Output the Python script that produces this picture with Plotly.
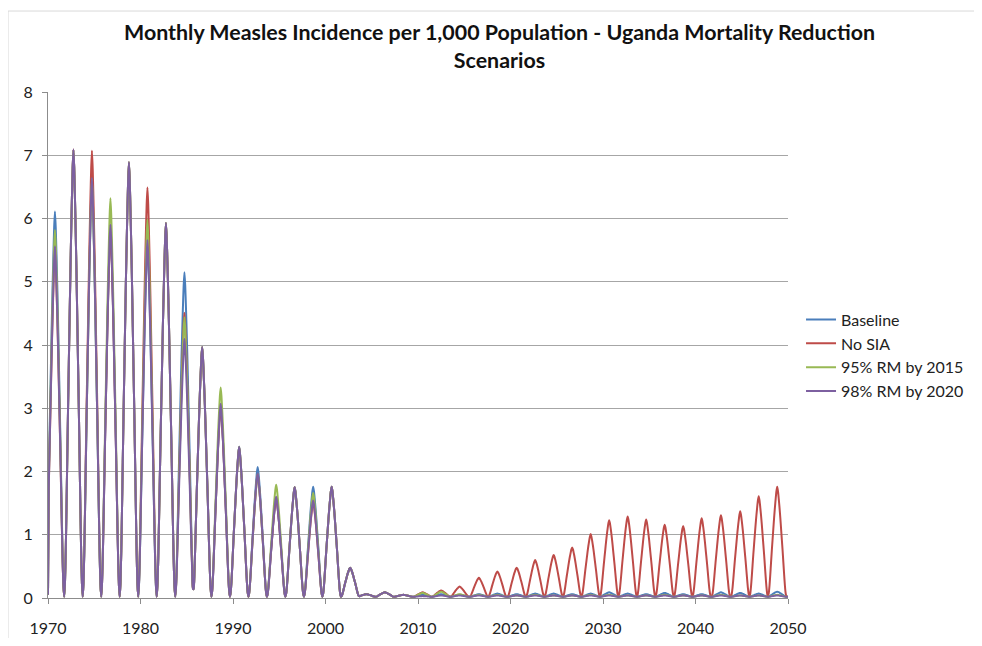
import numpy as np
import plotly.graph_objects as go

# ---- data ----
series_names = ["Baseline", "No SIA", "95% RM by 2015", "98% RM by 2020"]
series_colors = ["#4A7EBB", "#BE4B48", "#98B954", "#7D60A0"]

# epidemic peak times (decimal year) of the biennial measles cycles
peak_years = [1970.75, 1972.75, 1974.75, 1976.75, 1978.75, 1980.75, 1982.75, 1984.75,
              1986.70, 1988.70, 1990.70, 1992.70, 1994.65, 1996.70, 1998.70, 2000.70,
              2002.65, 2004.45, 2006.40, 2008.40, 2010.50, 2012.50, 2014.50, 2016.55,
              2018.60, 2020.70, 2022.65, 2024.70, 2026.70, 2028.70, 2030.70, 2032.70,
              2034.70, 2036.70, 2038.70, 2040.70, 2042.75, 2044.80, 2046.80, 2048.80]

# peak monthly incidence per 1,000 for each cycle
baseline_peaks = [6.11, 7.08, 6.60, 5.88, 6.89, 5.62, 5.93, 5.15, 3.97, 3.05, 2.39, 2.07,
                  1.58, 1.75, 1.76, 1.76, 0.48, 0.06, 0.09, 0.05, 0.05, 0.06, 0.05, 0.06,
                  0.07, 0.06, 0.07, 0.07, 0.06, 0.07, 0.09, 0.07, 0.06, 0.08, 0.06, 0.06,
                  0.09, 0.08, 0.07, 0.10]
no_sia_peaks = [5.50, 7.09, 7.07, 5.85, 6.89, 6.49, 5.93, 4.51, 3.97, 3.04, 2.38, 1.95,
                1.58, 1.75, 1.52, 1.76, 0.48, 0.06, 0.09, 0.05, 0.09, 0.12, 0.18, 0.32,
                0.42, 0.48, 0.60, 0.68, 0.80, 1.01, 1.23, 1.29, 1.24, 1.16, 1.14, 1.26,
                1.31, 1.37, 1.61, 1.76]
rm95_peaks = [5.82, 7.08, 6.62, 6.32, 6.89, 5.98, 5.93, 4.44, 3.97, 3.33, 2.39, 1.96,
              1.79, 1.75, 1.66, 1.76, 0.48, 0.06, 0.09, 0.05, 0.08, 0.10, 0.06, 0.05,
              0.05, 0.04, 0.05, 0.04, 0.04, 0.05, 0.05, 0.04, 0.04, 0.05, 0.04, 0.04,
              0.05, 0.04, 0.04, 0.05]
rm98_peaks = [5.56, 7.09, 6.64, 5.90, 6.89, 5.66, 5.93, 4.10, 3.97, 3.07, 2.39, 1.97,
              1.60, 1.75, 1.54, 1.76, 0.48, 0.06, 0.09, 0.05, 0.03, 0.04, 0.04, 0.04,
              0.04, 0.04, 0.04, 0.04, 0.04, 0.04, 0.04, 0.04, 0.04, 0.04, 0.04, 0.04,
              0.04, 0.04, 0.04, 0.04]

# shape of one epidemic (fraction of peak) by months away from the peak
epidemic_profile = [1.00, 0.96, 0.89, 0.81, 0.72, 0.62, 0.52, 0.42, 0.31, 0.20, 0.10, 0.03, 0.0]
trough_level = 0.02
start_value = 0.05

x_ticks = [1970, 1980, 1990, 2000, 2010, 2020, 2030, 2040, 2050]
y_ticks = [0, 1, 2, 3, 4, 5, 6, 7, 8]

# ---- monthly series ----
n_months = (2050 - 1970) * 12 + 1
month_x = 1970 + np.arange(n_months) / 12.0


def monthly_series(peaks):
    vals = np.full(n_months, trough_level)
    for py, pk in zip(peak_years, peaks):
        pm = int(round((py - 1970) * 12))
        for off, frac in enumerate(epidemic_profile):
            for m in {pm - off, pm + off}:
                if 0 <= m < n_months:
                    vals[m] = max(vals[m], trough_level + (pk - trough_level) * frac)
    vals[0] = start_value
    return vals


all_peaks = [baseline_peaks, no_sia_peaks, rm95_peaks, rm98_peaks]

fig = go.Figure()
for name, col, pk in zip(series_names, series_colors, all_peaks):
    fig.add_trace(go.Scatter(x=month_x, y=monthly_series(pk), mode="lines", name=name,
                             line=dict(color=col, width=2, shape="spline", smoothing=0.6)))

FONT = "Lato, Calibri, 'Open Sans', sans-serif"

# the page body adds an 8px margin, so the figure is 16px smaller than the window
fig.update_layout(
    width=966, height=630,
    margin=dict(l=40, r=186, t=84, b=40, autoexpand=False),
    paper_bgcolor="white", plot_bgcolor="white",
    font=dict(family=FONT, size=16, color="#222222"),
    title=dict(text="<b>Monthly Measles Incidence per 1,000 Population - Uganda Mortality Reduction<br>Scenarios</b>",
               x=0.5088, xanchor="center", y=0.9487, yanchor="top",
               font=dict(family=FONT, size=21.4, color="#111111")),
    showlegend=True,
    legend=dict(x=1.0176, xanchor="left", y=0.479, yanchor="middle",
                font=dict(family=FONT, size=16, color="#222222"),
                bgcolor="rgba(0,0,0,0)", itemwidth=30, tracegroupgap=0),
    xaxis=dict(range=[1970, 2050], tickvals=x_ticks, ticktext=[str(t) for t in x_ticks],
               showgrid=False, showline=True, linecolor="#8c8c8c", linewidth=1,
               ticks="outside", ticklen=5, tickcolor="#8c8c8c", automargin=False,
               ticklabelstandoff=11, zeroline=False),
    yaxis=dict(range=[0, 8], tickvals=y_ticks, showgrid=True, gridcolor="#a6a6a6",
               gridwidth=1, showline=True, linecolor="#8c8c8c", linewidth=1,
               ticks="outside", ticklen=5, tickcolor="#8c8c8c", zeroline=False,
               automargin=False, ticklabelstandoff=6),
    shapes=[dict(type="rect", xref="paper", yref="paper", x0=-0.054, x1=1.259,
                 y0=-0.2, y1=1.160, line=dict(color="#d9d9d9", width=1),
                 fillcolor="rgba(0,0,0,0)", layer="below")],
)

fig.write_html("out.html")
